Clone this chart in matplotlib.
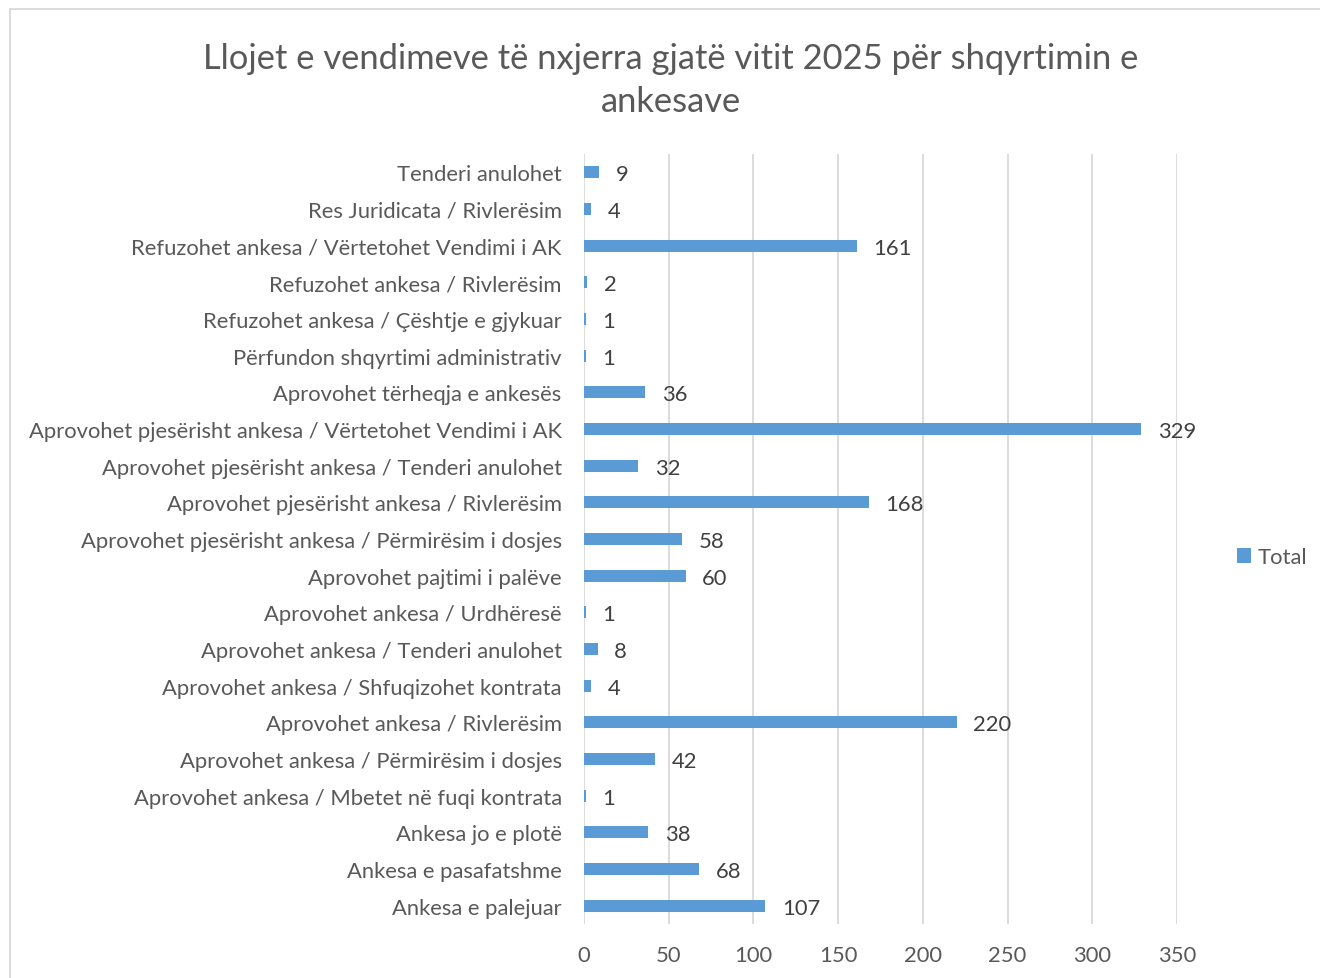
import matplotlib.pyplot as plt
from matplotlib.patches import Rectangle

categories = [
    "Ankesa e palejuar",
    "Ankesa e pasafatshme",
    "Ankesa jo e plotë",
    "Aprovohet ankesa / Mbetet në fuqi kontrata",
    "Aprovohet ankesa / Përmirësim i dosjes",
    "Aprovohet ankesa / Rivlerësim",
    "Aprovohet ankesa / Shfuqizohet kontrata",
    "Aprovohet ankesa / Tenderi anulohet",
    "Aprovohet ankesa / Urdhëresë",
    "Aprovohet pajtimi i palëve",
    "Aprovohet pjesërisht ankesa / Përmirësim i dosjes",
    "Aprovohet pjesërisht ankesa / Rivlerësim",
    "Aprovohet pjesërisht ankesa / Tenderi anulohet",
    "Aprovohet pjesërisht ankesa / Vërtetohet Vendimi i AK",
    "Aprovohet tërheqja e ankesës",
    "Përfundon shqyrtimi administrativ",
    "Refuzohet ankesa / Çështje e gjykuar",
    "Refuzohet ankesa / Rivlerësim",
    "Refuzohet ankesa / Vërtetohet Vendimi i AK",
    "Res Juridicata / Rivlerësim",
    "Tenderi anulohet",
]
totals = [107, 68, 38, 1, 42, 220, 4, 8, 1, 60, 58, 168, 32, 329, 36, 1, 1, 2, 161, 4, 9]
x_ticks = [0, 50, 100, 150, 200, 250, 300, 350]

plt.rcParams['font.family'] = ['Lato', 'DejaVu Sans']
text_color = '#595959'
bar_color = '#5B9BD5'

fig = plt.figure(figsize=(13.2, 9.79), dpi=100)
ax = fig.add_axes([0.4424, 0.0552, 0.4493, 0.7865])

ypos = list(range(len(categories)))
bars = ax.barh(ypos, totals, height=0.33, color=bar_color, label='Total', zorder=3)
labels = ax.bar_label(bars, padding=12, fontsize=15.8, color='#404040')
for t in labels:
    t.set_va('center_baseline')

ax.set_yticks(ypos)
ax.set_yticklabels(categories, fontsize=15.8, color=text_color)
ax.set_ylim(-0.5, len(categories) - 0.5)
ax.set_xlim(0, 350)
ax.set_xticks(x_ticks)
ax.set_xticklabels([str(t) for t in x_ticks], fontsize=15.8, color=text_color)
ax.tick_params(axis='y', length=0, pad=16)
ax.tick_params(axis='x', length=0, pad=15)
ax.grid(axis='x', color='#d9d9d9', linewidth=1.3, zorder=0)
for s in ax.spines.values():
    s.set_visible(False)

fig.text(0.508, 0.918, "Llojet e vendimeve të nxjerra gjatë vitit 2025 për shqyrtimin e\nankesave",
         ha='center', va='center', fontsize=24.8, color=text_color, linespacing=1.42)

ax.legend(loc='center left', bbox_to_anchor=(0.922, 0.43), bbox_transform=fig.transFigure,
          frameon=False, fontsize=15.8, labelcolor=text_color, handlelength=0.65,
          handleheight=0.65, handletextpad=0.3)

fig.patches.append(Rectangle((0.0076, -0.05), 1.2, 1.04, transform=fig.transFigure,
                             fill=False, edgecolor='#d9d9d9', linewidth=1.3))

fig.savefig('out.png', dpi=100)
